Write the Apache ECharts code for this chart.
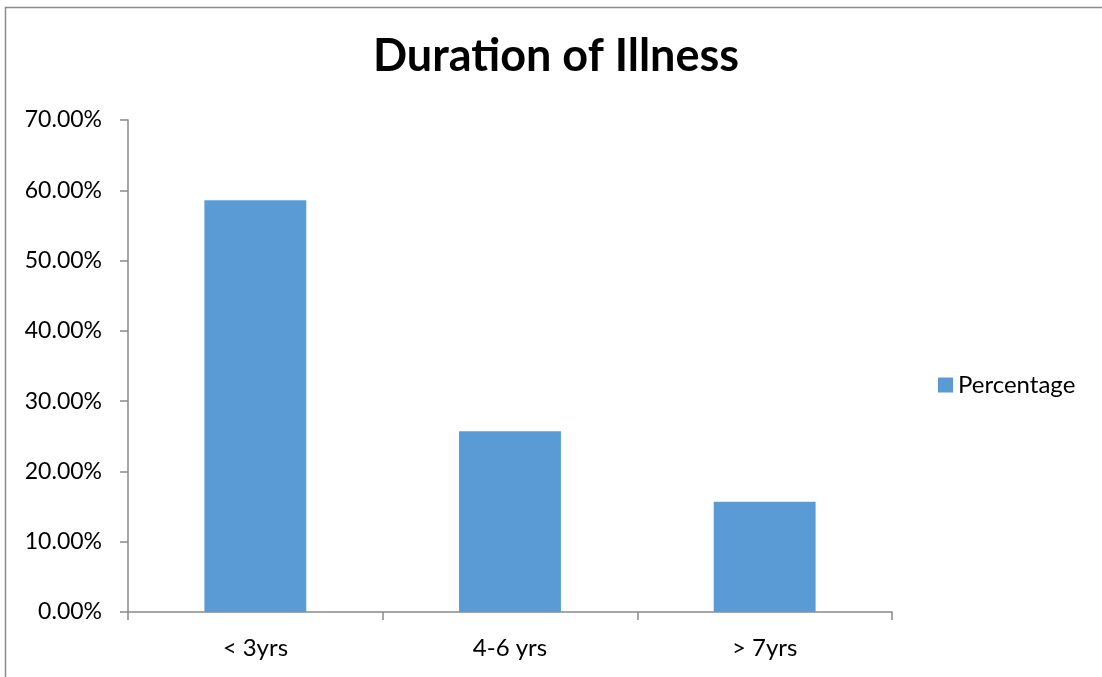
<!DOCTYPE html>
<html>
<head>
<meta charset="utf-8">
<script src="https://cdn.jsdelivr.net/npm/echarts@6/dist/echarts.min.js"></script>
<style>
  html, body { margin: 0; padding: 0; background: #fff; }
  #chart { width: 1102px; height: 677px; }
</style>
</head>
<body>
<div id="chart"></div>
<script>
// Duration of illness, share of patients per group
const categories = ['< 3yrs', '4-6 yrs', '> 7yrs'];
const percentages = [58.6, 25.7, 15.7];
const yTicks = { min: 0, max: 70, interval: 10 };

const FONT = 'Lato, "Open Sans", sans-serif';
const chart = echarts.init(document.getElementById('chart'));

chart.setOption({
  backgroundColor: '#ffffff',
  animation: false,
  graphic: [{
    // chart-area frame: left and top edges only show inside the canvas
    type: 'polyline',
    shape: { points: [[5.5, 700], [5.5, 7.5], [1110, 7.5]] },
    style: { fill: 'none', stroke: '#8c8c8c', lineWidth: 1.5 },
    silent: true
  }],
  title: {
    // zero-width non-joiner keeps "t" and "i" as separate glyphs
    text: 'Dura\u200Ction of Illness',
    left: 551,
    textAlign: 'center',
    top: 29,
    textStyle: { fontFamily: FONT, fontWeight: 'bold', fontSize: 45, color: '#000' }
  },
  legend: {
    data: ['Percentage'],
    left: 933,
    top: 368,
    itemWidth: 15,
    itemHeight: 15,
    itemGap: 7,
    icon: 'rect',
    textStyle: { fontFamily: FONT, fontSize: 24, color: '#000' }
  },
  grid: { left: 128, right: 210, top: 120, bottom: 65, containLabel: false },
  xAxis: {
    type: 'category',
    data: categories,
    axisLine: { lineStyle: { color: '#898989', width: 1.5 } },
    axisTick: { show: true, length: 8, lineStyle: { color: '#898989', width: 1.5 } },
    axisLabel: { fontFamily: FONT, fontSize: 24, color: '#000', margin: 24 }
  },
  yAxis: {
    type: 'value',
    min: yTicks.min,
    max: yTicks.max,
    interval: yTicks.interval,
    axisLine: { show: true, lineStyle: { color: '#898989', width: 1.5 } },
    axisTick: { show: true, length: 8, lineStyle: { color: '#898989', width: 1.5 } },
    splitLine: { show: false },
    axisLabel: {
      fontFamily: FONT, fontSize: 23, color: '#000', margin: 26,
      formatter: v => v.toFixed(2) + '%'
    }
  },
  series: [{
    name: 'Percentage',
    type: 'bar',
    data: percentages,
    barWidth: '40%',
    itemStyle: { color: '#5b9bd5' }
  }]
});
</script>
</body>
</html>
